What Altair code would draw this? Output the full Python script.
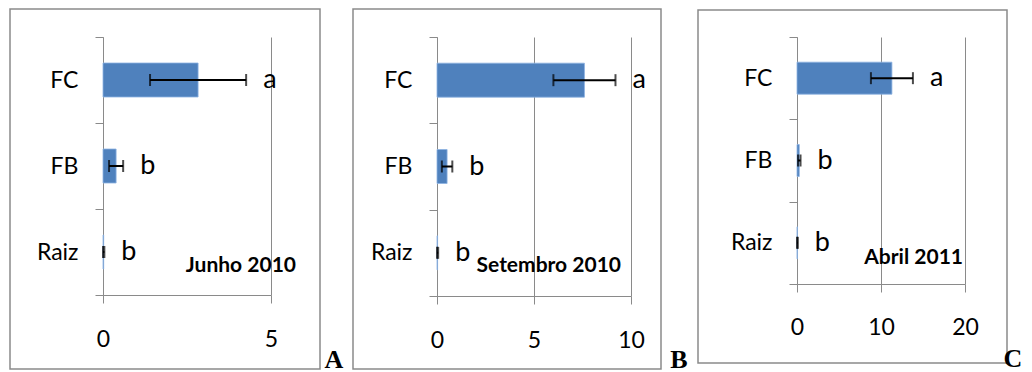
import altair as alt
import pandas as pd

categories = ["FC", "FB", "Raiz"]
letters = ["a", "b", "b"]

jun_mean = [2.83, 0.39, 0.02]
jun_err = [1.43, 0.21, 0.02]
set_mean = [7.6, 0.52, 0.03]
set_err = [1.6, 0.27, 0.03]
abr_mean = [11.3, 0.27, 0.05]
abr_err = [2.5, 0.15, 0.05]

titles = ["Junho 2010", "Setembro 2010", "Abril 2011"]
tags = ["A", "B", "C"]
x_max = [5, 10, 20]
x_ticks = [[0, 5], [0, 5, 10], [0, 10, 20]]

GREY = "#8a8a8a"
BLUE = "#4f81bd"
FONT = "Lato"


def panel(mean, err, title, tag, xmax, ticks, width, height, bar_size,
          label_pad, border, title_pos, tag_pos):
    df = pd.DataFrame({
        "cat": categories,
        "mean": mean,
        "lo": [m - e for m, e in zip(mean, err)],
        "hi": [m + e for m, e in zip(mean, err)],
        "letter": letters,
    })
    y = alt.Y("cat:N", sort=categories,
              scale=alt.Scale(paddingInner=0, paddingOuter=0),
              axis=alt.Axis(title=None, tickBand="extent", tickSize=8,
                            labelPadding=17, domainColor=GREY, tickColor=GREY,
                            labelFont=FONT, labelFontSize=23, labelColor="black",
                            grid=False))
    xscale = alt.Scale(domain=[0, xmax], nice=False)
    base = alt.Chart(df)
    bars = base.mark_bar(color=BLUE, size=bar_size, stroke="#8db3e2",
                         strokeWidth=0.8).encode(
        x=alt.X("mean:Q", scale=xscale,
                axis=alt.Axis(values=ticks, title=None, grid=True,
                              gridColor=GREY, gridWidth=1, tickSize=8,
                              tickColor=GREY, domainColor=GREY,
                              labelPadding=label_pad, labelFont=FONT,
                              labelFontSize=23, labelColor="black",
                              labelFlush=False)),
        y=y,
    )
    rule = base.mark_rule(color="black", strokeWidth=2).encode(
        x=alt.X("lo:Q", scale=xscale), x2="hi:Q", y=alt.Y("cat:N", sort=categories))
    cap_lo = base.mark_tick(color="black", thickness=2, size=12,
                            orient="vertical").encode(
        x=alt.X("lo:Q", scale=xscale), y=alt.Y("cat:N", sort=categories))
    cap_hi = base.mark_tick(color="black", thickness=2, size=12,
                            orient="vertical").encode(
        x=alt.X("hi:Q", scale=xscale), y=alt.Y("cat:N", sort=categories))
    lett = base.mark_text(align="left", baseline="middle", dx=17,
                          font=FONT, fontSize=27, color="black").encode(
        x=alt.X("hi:Q", scale=xscale), y=alt.Y("cat:N", sort=categories),
        text="letter:N")
    one = alt.Data(values=[{"t": title, "g": tag}])
    box = alt.Chart(one).mark_rect(filled=False, stroke=GREY,
                                   strokeWidth=1.5).encode(
        x=alt.value(border[0]), x2=alt.value(border[1]),
        y=alt.value(border[2]), y2=alt.value(border[3]))
    ttl = alt.Chart(one).mark_text(align="right", baseline="middle",
                                   font=FONT, fontSize=21, fontWeight="bold",
                                   color="black").encode(
        x=alt.value(title_pos[0]), y=alt.value(title_pos[1]), text="t:N")
    tg = alt.Chart(one).mark_text(align="center", baseline="alphabetic",
                                  font="Liberation Serif", fontSize=26,
                                  fontWeight="bold", color="black").encode(
        x=alt.value(tag_pos[0]), y=alt.value(tag_pos[1]), text="g:N")
    return alt.layer(box, bars, rule, cap_lo, cap_hi, lett, ttl, tg).properties(
        width=width, height=height)


pA = panel(jun_mean, jun_err, titles[0], tags[0], x_max[0], x_ticks[0],
           168, 258, 34, 25, (-93, 217, -28, 332), (193, 229), (231, 331))
pB = panel(set_mean, set_err, titles[1], tags[1], x_max[1], x_ticks[1],
           194, 259, 34, 25, (-84, 224, -28, 332), (184, 229), (242, 331))
pC = panel(abr_mean, abr_err, titles[2], tags[2], x_max[2], x_ticks[2],
           168, 247, 32, 24, (-99, 210, -27, 326), (166, 221), (216, 330))

chart = alt.hconcat(pA, pB, pC, spacing=166, bounds="flush").properties(
    padding={"left": 1, "top": 0, "right": 0, "bottom": 0},
    background="white",
).configure_view(stroke=None)

chart.save("out.html", embed_options={"renderer": "svg", "actions": False})
